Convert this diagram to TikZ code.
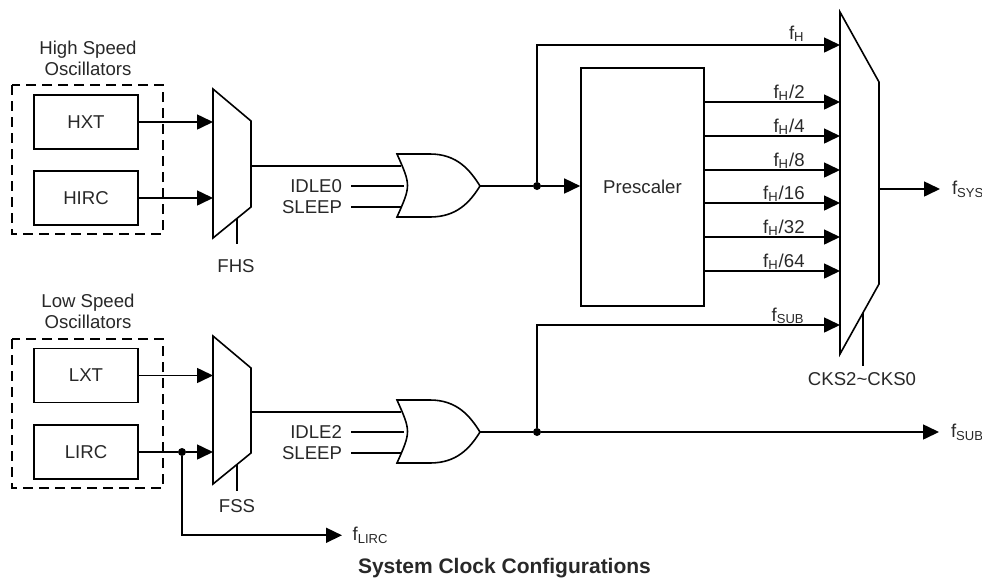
\documentclass[tikz,border=0pt]{standalone}
\usepackage{fontspec}
\setmainfont{Liberation Sans}
\usetikzlibrary{arrows.meta}
\definecolor{ink}{RGB}{40,40,40}
\tikzset{
	wire/.style={line width=0.8pt, draw=black},
	sig/.style={wire, -{Triangle[length=8pt,width=7.5pt]}},
	osc/.style={draw, line width=0.8pt, minimum width=52pt, minimum height=27pt},
	ctl/.style={anchor=east, inner sep=0pt, outer sep=4.5pt},
	outl/.style={anchor=base west, inner sep=0pt, outer sep=6pt},
	tap/.style={anchor=base east, inner sep=0pt},
	jn/.style={circle, fill, inner sep=0pt, minimum size=4pt},
	orgate/.pic={
		\draw[wire] (0,0) -- (33,0) .. controls (60,0) and (73,16) .. (83,32)
			.. controls (73,48) and (60,63) .. (33,63) -- (0,63) .. controls (14,31.5) .. (0,0) -- cycle;
		\coordinate (-in1) at (4,12);
		\coordinate (-in2) at (7,32);
		\coordinate (-in3) at (4,53);
		\coordinate (-out) at (83,32);
	}
}
\begin{document}
\begin{tikzpicture}[x=0.5pt, y=-0.5pt, font=\fontsize{9.3}{10.5}\selectfont, text=ink]
		\useasboundingbox (0,0) rectangle (982,580);
		% high speed side
		\node[align=center] (hsTitle) at (88,58) {High Speed\\Oscillators};
		\draw[wire, dash pattern=on 5pt off 3pt] (12,85) rectangle (163,234);
		\node[osc] (hxt) at (86,122) {HXT};
		\node[osc] (hirc) at (86,198) {HIRC};
		\draw[wire] (213,89) coordinate (fhsA) -- (251,121) -- (251,207) -- (213,238) -- cycle;
		\coordinate (fhsOut) at (251,166);
		\coordinate (fhsSel) at (237,218.4);
		\coordinate (fhsEnd) at (237,244);
		\draw[wire] (fhsSel) -- (fhsEnd);
		\node (fhs) at (236,266) {FHS};
		\draw[sig] (hxt.east) -- (hxt.east -| fhsA);
		\draw[sig] (hirc.east) -- (hirc.east -| fhsA);
		\pic (or1) at (397,154) {orgate};
		\draw[wire] (fhsOut) -- (or1-in1);
		\node[ctl] (idle0) at (351,186) {IDLE0};
		\node[ctl] (sleep0) at (351,207) {SLEEP};
		\draw[wire] (idle0.east) -- (or1-in2);
		\draw[wire] (sleep0.east) -- (or1-in3);
		\node[jn] (jH) at (537,186) {};
		\draw[wire] (or1-out) -- (jH);
		\node[draw, line width=0.8pt, minimum width=61.5pt, minimum height=119pt] (pre) at (642.5,187) {Prescaler};
		\draw[sig] (jH) -- (jH -| pre.west);
		% clock select mux
		\draw[wire] (840,12) coordinate (cksA) -- (879,82) -- (879,284) -- (840,354) -- cycle;
		\coordinate (ckH) at (840,45);
		\draw[sig] (jH) |- (ckH);
		\node[tap] (lblH) at (805,39) {f\textsubscript{H}};
		\foreach \y/\d in {102/2, 136/4, 170/8, 203/16, 237/32, 271/64} {
			\draw[sig] (pre.east |- 0,\y) -- (cksA |- 0,\y);
			\node[tap] (lblH\d) at (805,\y-4) {f\textsubscript{H}/\d};
		}
		\coordinate (cksOut) at (879,189);
		\node[outl] (fsys) at (940,194.5) {f\textsubscript{SYS}};
		\draw[sig] (cksOut) -- (cksOut -| fsys.west);
		\coordinate (cksSel) at (863,312.7);
		\coordinate (cksEnd) at (863,366);
		\draw[wire] (cksSel) -- (cksEnd);
		\node (cks) at (862,379) {CKS2\textasciitilde CKS0};
		% low speed side
		\node[align=center] (lsTitle) at (88,311.5) {Low Speed\\Oscillators};
		\draw[wire, dash pattern=on 5pt off 3pt] (12,339) rectangle (163,488);
		\node[osc] (lxt) at (86,375.5) {LXT};
		\node[osc] (lirc) at (86,452) {LIRC};
		\draw[wire] (213,336) coordinate (fssA) -- (251,368) -- (251,453) -- (213,484) -- cycle;
		\coordinate (fssOut) at (251,412);
		\coordinate (fssSel) at (237,464.4);
		\coordinate (fssEnd) at (237,491);
		\draw[wire] (fssSel) -- (fssEnd);
		\node (fss) at (237,506) {FSS};
		\draw[sig] (lxt.east) -- (lxt.east -| fssA);
		\node[jn] (jL) at (182,452) {};
		\draw[wire] (lirc.east) -- (jL);
		\draw[sig] (jL) -- (jL -| fssA);
		\node[outl, outer sep=5.3pt] (flirc) at (342,540.5) {f\textsubscript{LIRC}};
		\draw[sig] (jL) |- (flirc.west);
		\pic (or2) at (397,400) {orgate};
		\draw[wire] (fssOut) -- (or2-in1);
		\node[ctl] (idle2) at (351,432) {IDLE2};
		\node[ctl] (sleep2) at (351,453) {SLEEP};
		\draw[wire] (idle2.east) -- (or2-in2);
		\draw[wire] (sleep2.east) -- (or2-in3);
		\node[jn] (jS) at (537,432) {};
		\draw[wire] (or2-out) -- (jS);
		\node[outl] (fsub) at (939,437.5) {f\textsubscript{SUB}};
		\draw[sig] (jS) -- (jS -| fsub.west);
		\coordinate (ckSub) at (840,325);
		\draw[sig] (jS) |- (ckSub);
		\node[tap] (lblSub) at (805,321) {f\textsubscript{SUB}};
		% caption
		\node[font=\fontsize{10.5}{12}\selectfont\bfseries] (title) at (504.5,568) {System Clock Configurations};
	\end{tikzpicture}
\end{document}
